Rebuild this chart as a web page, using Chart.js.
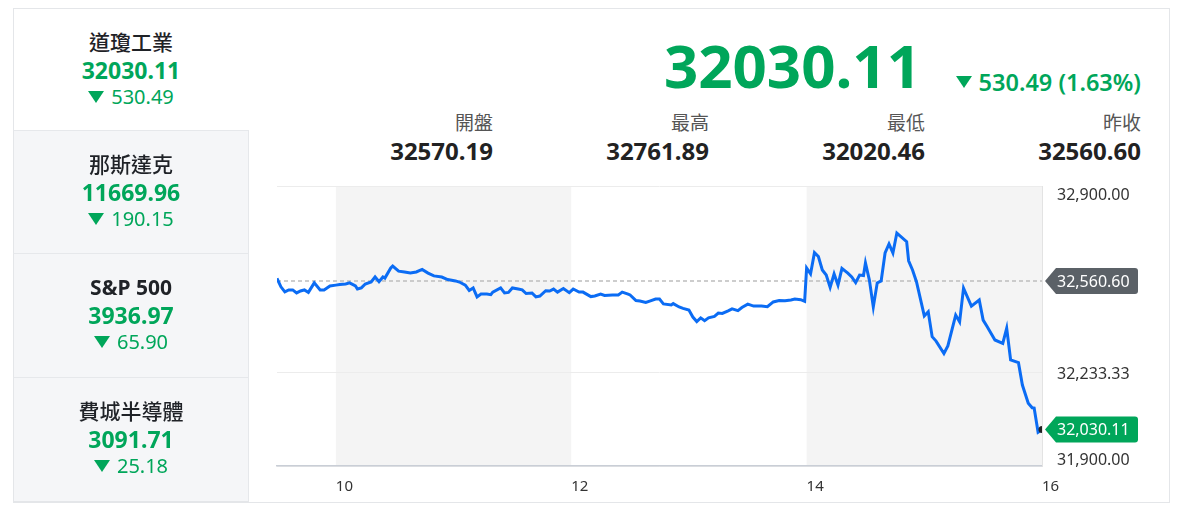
<!DOCTYPE html>
<html>
<head>
<meta charset="utf-8">
<script src="https://cdn.jsdelivr.net/npm/chart.js@4.4.0/dist/chart.umd.min.js"></script>
<style>
  body { margin: 0; background: #fff; font-family: "Noto Sans", "Noto Sans CJK TC", sans-serif; }
  #box { position: absolute; left: 13px; top: 8px; width: 1157px; height: 495px; border: 1px solid #e4e6e9; box-sizing: border-box; }
  .tab { position: absolute; left: 13px; width: 236px; box-sizing: border-box; }
  .tab.off { background: #f5f6f8; border-top: 1px solid #e6e8eb; border-right: 1px solid #e6e8eb; border-left: 1px solid #e4e6e9; }
  .tri { display: inline-block; width: 0; height: 0; border-left: 8px solid transparent; border-right: 8px solid transparent; border-top: 12px solid #00a65a; position: relative; }
  #chartBox { position: absolute; left: 262px; top: 175px; width: 906px; height: 320px; }
</style>
</head>
<body>
<div id="box"></div>
<div class="tab" style="top:8px;height:122px"></div>
<div class="tab off" style="top:130px;height:123px"></div>
<div class="tab off" style="top:253px;height:124px"></div>
<div class="tab off" style="top:377px;height:125px;border-bottom:1px solid #e4e6e9"></div>
<div id="chartBox"><canvas id="dow"></canvas></div>
<script>
// 左側指數
const indexNames = ['道瓊工業', '那斯達克', 'S&P 500', '費城半導體'];
const indexValues = ['32030.11', '11669.96', '3936.97', '3091.71'];
const indexChanges = ['530.49', '190.15', '65.90', '25.18'];

// 上方報價
const lastPrice = 32030.11;
const change = '530.49 (1.63%)';
const statLabels = ['開盤', '最高', '最低', '昨收'];
const statValues = ['32570.19', '32761.89', '32020.46', '32560.60'];
const prevClose = 32560.60;

// 走勢 (分鐘, 自 9:30 起算)
const minutes = [0, 2, 4, 6, 8, 10, 12, 14, 16, 19, 22, 24, 27, 30, 32, 35, 37, 40, 41, 43,
  45, 48, 50, 52, 54, 55, 58, 59, 62, 65, 68, 71, 74, 77, 80, 84, 87, 91, 93, 96,
  98, 100, 102, 104, 107, 109, 110, 114, 116, 118, 120, 123, 125, 127, 130, 132, 134, 137, 139, 141,
  143, 146, 149, 151, 154, 156, 160, 162, 165, 167, 171, 174, 176, 179, 180, 183, 185, 188, 190, 193,
  195, 197, 201, 202, 205, 207, 210, 212, 214, 216, 218, 220, 223, 225, 227, 230, 232, 235, 237, 240,
  243, 247, 250, 253, 256, 259, 262, 264, 267, 269, 270, 272, 274, 276, 278, 280, 282, 284, 286, 288,
  291, 293, 295, 297, 299, 300, 302, 304, 306, 308, 310, 312, 314, 316, 321, 322, 324, 326, 330, 332,
  334, 336, 340, 342, 346, 348, 350, 354, 358, 360, 362, 366, 370, 372, 374, 378, 380, 383, 385, 386,
  388, 390];
const values = [32570.19, 32540, 32522, 32529, 32529, 32518, 32525, 32529, 32520, 32554, 32529, 32529, 32543, 32546, 32548, 32550, 32554, 32543, 32532, 32536,
  32550, 32557, 32575, 32558, 32575, 32571, 32607, 32614, 32596, 32593, 32589, 32593, 32602, 32589, 32579, 32575, 32566, 32561, 32557, 32546,
  32527, 32536, 32504, 32514, 32514, 32512, 32521, 32536, 32518, 32520, 32536, 32532, 32529, 32516, 32518, 32504, 32507, 32526, 32525, 32532,
  32521, 32534, 32519, 32532, 32521, 32521, 32505, 32507, 32514, 32509, 32511, 32511, 32521, 32514, 32511, 32491, 32489, 32484, 32489, 32496,
  32496, 32479, 32475, 32480, 32468, 32463, 32457, 32432, 32416, 32429, 32419, 32429, 32434, 32446, 32445, 32454, 32461, 32455, 32466, 32478,
  32471, 32471, 32469, 32486, 32491, 32490, 32493, 32496, 32494, 32488, 32607, 32586, 32662, 32648, 32600, 32582, 32538, 32586, 32546, 32606,
  32589, 32575, 32555, 32582, 32580, 32625, 32564, 32468, 32554, 32561, 32661, 32693, 32661, 32732, 32701, 32633, 32600, 32558, 32436, 32451,
  32362, 32346, 32302, 32329, 32439, 32415, 32535, 32471, 32493, 32421, 32398, 32350, 32338, 32392, 32279, 32269, 32189, 32124, 32108, 32107,
  32020.46, 32030.11];

const xTicks = [10, 12, 14, 16];
const yTicks = [31900, 32233.33, 32900];
const shadedHours = [[10, 12], [14, 16]];

const GREEN = '#00a65a';
const fmt = v => v.toLocaleString('en-US', { minimumFractionDigits: 2, maximumFractionDigits: 2 });

function put(html, x, cy, size, align, extra) {
  const d = document.createElement('div');
  let css = 'position:absolute;white-space:nowrap;top:' + (cy - 0.53 * size) + 'px;font-size:' + size + 'px;line-height:' + size + 'px;';
  if (align === 'center') css += 'left:' + (x - 150) + 'px;width:300px;text-align:center;';
  else css += 'right:' + (1178 - x) + 'px;text-align:right;';
  d.style.cssText = css + (extra || '');
  d.innerHTML = html;
  document.body.appendChild(d);
}

const tabTops = [8, 130, 253, 377];
indexNames.forEach((name, i) => {
  const t = tabTops[i];
  put(name.replace('&', '&amp;'), 131, t + 35, 21, 'center', 'color:#1f2227;' + (i === 2 ? 'font-weight:700;' : 'font-weight:500;'));
  put(indexValues[i], 131, t + 63.5, 23, 'center', 'color:' + GREEN + ';font-weight:700;');
  put('<span class="tri" style="top:-1px;margin-right:7px"></span>' + indexChanges[i], 131, t + 90, 20, 'center', 'color:' + GREEN + ';');
});

put(String(lastPrice), 921, 67, 60, 'right', 'color:' + GREEN + ';font-weight:700;');
put('<span class="tri" style="top:-3px;margin-right:7px"></span>' + change, 1141, 83, 23.5, 'right', 'color:' + GREEN + ';font-weight:600;');
statLabels.forEach((lab, i) => {
  const x = 493 + i * 216;
  put(lab, x, 124.5, 19, 'right', 'color:#555;');
  put(statValues[i], x, 152, 24, 'right', 'color:#222;font-weight:700;');
});

function drawTag(ctx, tipX, yc, text, color) {
  const h = 26, bx = tipX + 11, w = 82, r = 3;
  ctx.beginPath();
  ctx.moveTo(tipX, yc);
  ctx.lineTo(bx, yc - h / 2);
  ctx.lineTo(bx + w - r, yc - h / 2);
  ctx.quadraticCurveTo(bx + w, yc - h / 2, bx + w, yc - h / 2 + r);
  ctx.lineTo(bx + w, yc + h / 2 - r);
  ctx.quadraticCurveTo(bx + w, yc + h / 2, bx + w - r, yc + h / 2);
  ctx.lineTo(bx, yc + h / 2);
  ctx.closePath();
  ctx.fillStyle = color;
  ctx.fill();
  ctx.fillStyle = '#fff';
  ctx.font = '16px "Noto Sans"';
  ctx.textAlign = 'left';
  ctx.textBaseline = 'middle';
  ctx.fillText(text, tipX + 12, yc + 1);
}

const marks = {
  id: 'marks',
  beforeDraw(chart) {
    const { ctx, chartArea: a, scales: { x } } = chart;
    ctx.save();
    ctx.fillStyle = '#f4f4f4';
    shadedHours.forEach(([s, e]) => {
      const x0 = x.getPixelForValue(s), x1 = x.getPixelForValue(e);
      ctx.fillRect(x0, a.top, x1 - x0, a.bottom - a.top);
    });
    ctx.restore();
  },
  beforeDatasetsDraw(chart) {
    const { ctx, chartArea: a, scales: { y } } = chart;
    const py = y.getPixelForValue(prevClose);
    ctx.save();
    ctx.strokeStyle = '#bdbdbd';
    ctx.lineWidth = 1.5;
    ctx.setLineDash([4, 3]);
    ctx.beginPath();
    ctx.moveTo(a.left, py);
    ctx.lineTo(a.right, py);
    ctx.stroke();
    ctx.restore();
  },
  afterDraw(chart) {
    const { ctx, chartArea: a, scales: { y } } = chart;
    ctx.save();
    drawTag(ctx, a.right + 3, y.getPixelForValue(prevClose), fmt(prevClose), '#5b6167');
    drawTag(ctx, a.right + 3, y.getPixelForValue(values[values.length - 1]), fmt(values[values.length - 1]), GREEN);
    ctx.restore();
  }
};

Chart.defaults.font.family = '"Noto Sans", sans-serif';

new Chart(document.getElementById('dow'), {
  type: 'line',
  data: {
    datasets: [{
      data: minutes.map((m, i) => ({ x: 9.5 + m / 60, y: values[i] })),
      borderColor: '#0b6cf4',
      borderWidth: 3,
      tension: 0,
      pointRadius: c => (c.dataIndex === values.length - 1 ? 3.5 : 0),
      pointBackgroundColor: '#222',
      pointBorderWidth: 0,
      pointHoverRadius: 0
    }]
  },
  options: {
    responsive: true,
    maintainAspectRatio: false,
    animation: false,
    events: [],
    layout: { padding: { left: 15, top: 11, right: 0, bottom: 0 } },
    plugins: { legend: { display: false }, tooltip: { enabled: false } },
    scales: {
      x: {
        type: 'linear',
        min: 9.5,
        max: 16,
        afterBuildTicks: s => { s.ticks = xTicks.map(v => ({ value: v })); },
        afterFit: s => { s.height = 29; s.paddingLeft = 0; s.paddingRight = 0; },
        grid: { display: false },
        border: { color: '#c9ced6', width: 1.5 },
        ticks: { align: 'start', padding: 4, color: '#333', font: { size: 15 }, maxRotation: 0, autoSkip: false, callback: v => String(v) }
      },
      y: {
        position: 'right',
        min: 31900,
        max: 32900,
        afterBuildTicks: s => { s.ticks = yTicks.map(v => ({ value: v })); },
        afterFit: s => { s.width = 126; s.paddingTop = 0; s.paddingBottom = 0; },
        grid: { color: '#ececec', drawTicks: false },
        border: { color: '#e3e3e3' },
        ticks: {
          padding: 15,
          labelOffset: 2,
          color: '#333',
          font: { size: 16, lineHeight: 0.95 },
          callback: (v, i, arr) => {
            const t = fmt(v);
            if (i === 0) return [t, ''];
            if (i === arr.length - 1) return ['', t];
            return t;
          }
        }
      }
    }
  },
  plugins: [marks]
});
</script>
</body>
</html>
